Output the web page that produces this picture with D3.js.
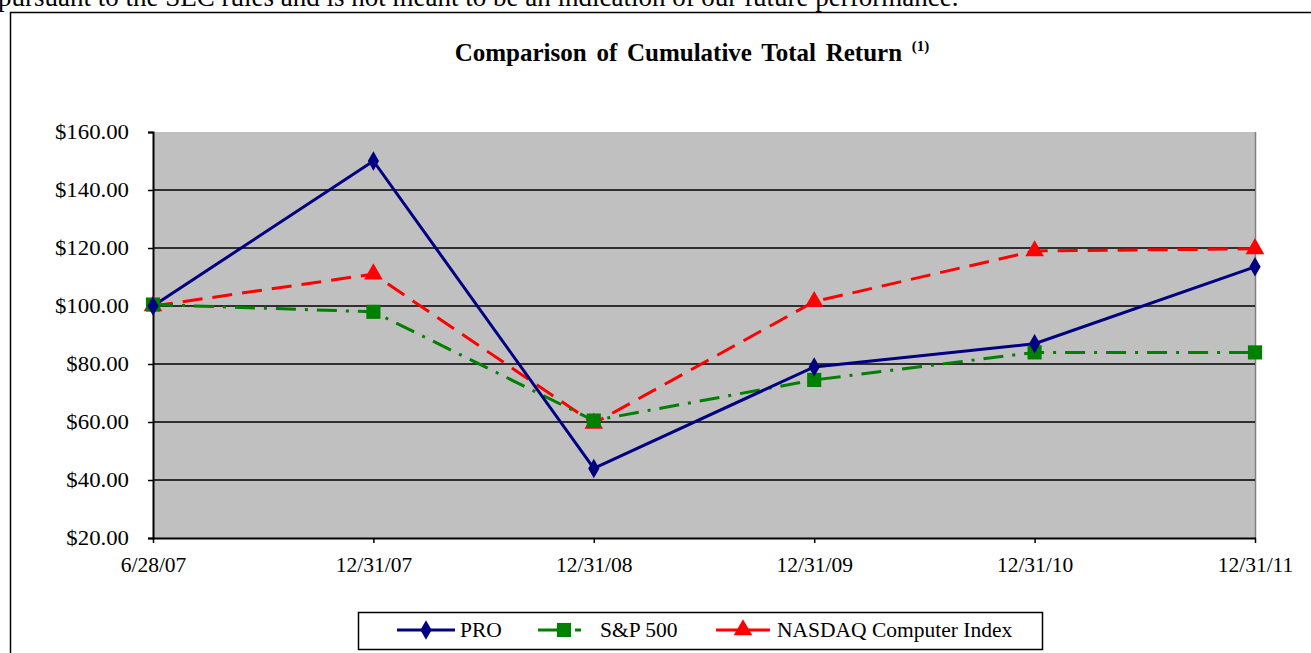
<!DOCTYPE html>
<html>
<head>
<meta charset="utf-8">
<script src="https://cdn.jsdelivr.net/npm/d3@7"></script>
<style>
  body { margin: 0; background: #fff; overflow: hidden; }
  text { font-family: "Liberation Serif", "Times New Roman", serif; }
</style>
</head>
<body>
<script>
let dates = ['6/28/07', '12/31/07', '12/31/08', '12/31/09', '12/31/10', '12/31/11']
let proValues = [100, 150, 44, 79, 87, 113.5]
let spValues = [100.5, 98, 60.5, 74.5, 84, 84]
let nasdaqValues = [100, 111, 59.5, 101.5, 119, 119.7]
let yTicks = [20, 40, 60, 80, 100, 120, 140, 160]
let seriesNames = ['PRO', 'S&P 500', 'NASDAQ Computer Index']

let width = 1311
let height = 653

let svg = d3.select('body').append('svg').attr('width', width).attr('height', height)

// clipped sentence from the page above the chart
svg.append('text')
  .attr('x', -2).attr('y', 6)
  .attr('font-size', 27)
  .text('pursuant to the SEC rules and is not meant to be an indication of our future performance.')

// outer chart frame
svg.append('path')
  .attr('d', 'M10.5,653 V12.5 H1311')
  .attr('fill', 'none').attr('stroke', '#000').attr('stroke-width', 1.5)

// title
let title = svg.append('text')
  .attr('x', 692).attr('y', 61)
  .attr('text-anchor', 'middle')
  .attr('font-size', 25).attr('font-weight', 'bold')
  .attr('word-spacing', 3.5)
title.append('tspan').text('Comparison of Cumulative Total Return ')
title.append('tspan').attr('font-size', 15).attr('dy', -10).text('(1)')

let x = d3.scalePoint().domain(dates).range([153, 1255])
let y = d3.scaleLinear().domain([20, 160]).range([538, 132])

// plot area
svg.append('rect')
  .attr('x', x.range()[0]).attr('y', y(160))
  .attr('width', x.range()[1] - x.range()[0]).attr('height', y(20) - y(160))
  .attr('fill', '#c0c0c0')

svg.append('line')
  .attr('x1', x.range()[1] + 0.5).attr('x2', x.range()[1] + 0.5)
  .attr('y1', y(160)).attr('y2', y(20))
  .attr('stroke', '#808080').attr('stroke-width', 1.5)

svg.append('g')
  .selectAll('line')
  .data(yTicks.filter(d => d > 20 && d < 160))
  .enter()
  .append('line')
  .attr('x1', x.range()[0]).attr('x2', x.range()[1])
  .attr('y1', d => y(d)).attr('y2', d => y(d))
  .attr('stroke', '#000').attr('stroke-width', 1.5)

// tick labels in the reference look slightly stretched sideways
let stretch = 1.14
let yAxis = svg.append('g')
  .attr('transform', `translate(${x.range()[0]},0)`)
  .call(d3.axisLeft(y).tickValues(yTicks).tickSize(5).tickFormat(d => '$' + d3.format('.2f')(d)))
yAxis.select('.domain').attr('stroke-width', 2)
yAxis.selectAll('.tick line').attr('stroke-width', 1.5)
yAxis.selectAll('.tick text')
  .attr('font-family', '"Liberation Serif", serif').attr('font-size', 20)
  .attr('fill', '#000').attr('x', -24 / stretch)
  .attr('transform', `scale(${stretch},1)`)

let xAxis = svg.append('g')
  .attr('transform', `translate(0,${y(20)})`)
  .call(d3.axisBottom(x).tickSize(5).tickSizeOuter(0))
xAxis.select('.domain').attr('stroke-width', 2)
  .attr('d', `M${x.range()[0] - 1},0.5H${x.range()[1] + 1}`)
xAxis.selectAll('.tick line').attr('stroke-width', 1.5)
xAxis.selectAll('.tick text')
  .attr('font-family', '"Liberation Serif", serif').attr('font-size', 21.5)
  .attr('fill', '#000').attr('y', 19)

let series = [
  { name: seriesNames[0], values: proValues, color: '#000080', dash: null, symbol: d3.symbolDiamond, size: 110 },
  { name: seriesNames[1], values: spValues, color: '#008000', dash: '20,9,3,9', symbol: d3.symbolSquare, size: 200 },
  { name: seriesNames[2], values: nasdaqValues, color: '#ff0000', dash: '20,10', symbol: d3.symbolTriangle, size: 150 }
]

let line = d3.line()
  .x((d, i) => x(dates[i]))
  .y(d => y(d))

let drawOrder = [series[2], series[1], series[0]]
drawOrder.forEach(s => {
  svg.append('path')
    .attr('fill', 'none')
    .attr('stroke', s.color)
    .attr('stroke-width', 3)
    .attr('stroke-dasharray', s.dash)
    .attr('d', line(s.values))
})
drawOrder.forEach(s => {
  svg.append('g')
    .selectAll('path')
    .data(s.values)
    .enter()
    .append('path')
    .attr('transform', (d, i) => `translate(${x(dates[i])},${y(d)})`)
    .attr('d', d3.symbol().type(s.symbol).size(s.size))
    .attr('fill', s.color)
})

// legend
svg.append('rect')
  .attr('x', 358.5).attr('y', 612.5).attr('width', 684).attr('height', 37)
  .attr('fill', '#fff').attr('stroke', '#000').attr('stroke-width', 1.5)

let legendItems = [
  { s: series[0], x1: 397, x2: 455, tx: 460 },
  { s: series[1], x1: 538, x2: 592, tx: 600 },
  { s: series[2], x1: 716, x2: 770, tx: 777 }
]
let ly = 630
legendItems.forEach(item => {
  let g = svg.append('g')
  g.append('line')
    .attr('x1', item.x1).attr('x2', item.x2)
    .attr('y1', ly).attr('y2', ly)
    .attr('stroke', item.s.color).attr('stroke-width', 3)
    .attr('stroke-dasharray', item.s === series[1] ? '30,7,6,20' : null)
  g.append('path')
    .attr('transform', `translate(${(item.x1 + item.x2) / 2 - (item.s === series[1] ? 1 : 0)},${ly})`)
    .attr('d', d3.symbol().type(item.s.symbol).size(item.s.size))
    .attr('fill', item.s.color)
  g.append('text')
    .attr('x', item.tx).attr('y', ly + 7)
    .attr('font-size', 21.5)
    .text(item.s.name)
})
</script>
</body>
</html>
